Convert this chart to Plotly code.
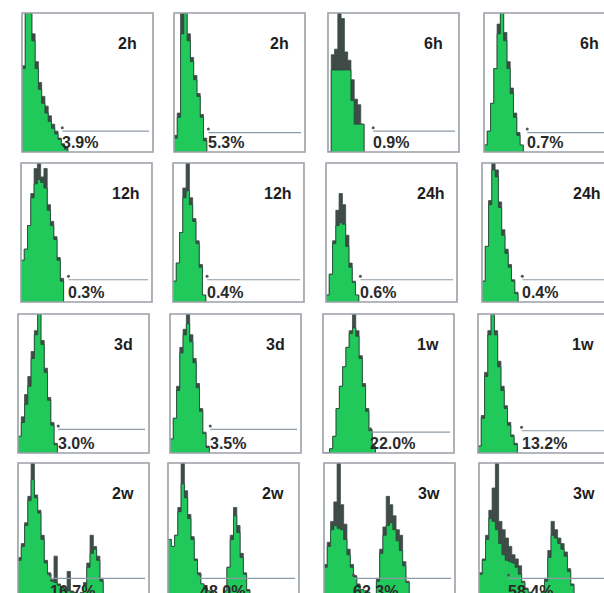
import plotly.graph_objects as go

# ---------------- data (bin heights, % of panel height; 40 bins per panel) ----------------
labels = ["2h", "2h", "6h", "6h",
          "12h", "12h", "24h", "24h",
          "3d", "3d", "1w", "1w",
          "2w", "2w", "3w", "3w"]
percents = ["3.9%", "5.3%", "0.9%", "0.7%",
            "0.3%", "0.4%", "0.6%", "0.4%",
            "3.0%", "3.5%", "22.0%", "13.2%",
            "16.7%", "48.0%", "62.3%", "58.4%"]
gate_start = [12.3, 10.5, 13.8, 13.2,
              14.5, 10.4, 10.5, 12.3,
              12.3, 12.3, 14.5, 13.3,
              9.8, 9.8, 9.0, 9.0]
gate_level = [15, 14, 15, 14,
              16, 16, 16, 16,
              17, 17, 15, 16,
              17, 17, 17, 17]

green = [
    [60, 100, 100, 80, 60, 45, 35, 28, 22, 17, 13, 9, 5, 2, 0],
    [10, 25, 85, 100, 80, 65, 52, 40, 25, 8, 0],
    [0, 59, 59, 59, 59, 59, 59, 37, 20, 20, 20, 0],
    [5, 15, 35, 60, 85, 100, 80, 60, 42, 25, 12, 5, 0],
    [30, 38, 55, 75, 85, 88, 86, 82, 66, 55, 45, 30, 15, 0],
    [15, 28, 50, 75, 80, 70, 58, 42, 25, 5, 0],
    [5, 20, 42, 55, 57, 56, 40, 25, 14, 5, 0],
    [15, 40, 70, 95, 90, 68, 48, 35, 25, 15, 6, 0],
    [12, 22, 35, 48, 68, 85, 100, 78, 58, 38, 20, 6, 0],
    [10, 25, 45, 72, 85, 93, 80, 65, 47, 30, 14, 4, 0],
    [0, 0, 3, 12, 32, 48, 62, 76, 86, 90, 84, 68, 48, 30, 16, 4, 0],
    [5, 25, 55, 85, 100, 85, 62, 45, 32, 20, 12, 6, 0],
    [30, 40, 55, 73, 88, 75, 64, 45, 28, 20, 15, 14, 12, 10, 9, 8, 7, 6, 5, 6,
     12, 25, 35, 38, 30, 15, 4, 0],
    [45, 40, 48, 65, 85, 75, 60, 45, 30, 20, 13, 10, 8, 7, 6, 5, 5, 8, 25, 45,
     62, 50, 32, 20, 8, 0],
    [25, 40, 52, 55, 53, 52, 45, 34, 25, 18, 12, 9, 8, 7, 6, 6, 15, 35, 48, 55,
     57, 52, 44, 37, 26, 14, 4, 0],
    [20, 30, 45, 60, 58, 52, 42, 34, 30, 29, 28, 25, 20, 14, 9, 7, 6, 6, 6, 7,
     15, 32, 48, 46, 42, 38, 33, 22, 12, 4, 0],
]

dark = [
    [62, 100, 100, 85, 65, 50, 40, 33, 26, 20, 15, 10, 6, 3, 0],
    [12, 28, 100, 100, 85, 68, 55, 42, 27, 10, 0],
    [0, 70, 74, 100, 96, 72, 66, 52, 38, 34, 20, 0],
    [5, 15, 35, 60, 92, 100, 86, 65, 46, 28, 14, 5, 0],
    [30, 38, 55, 78, 96, 100, 90, 96, 70, 58, 47, 32, 17, 0],
    [15, 28, 50, 82, 100, 75, 60, 44, 27, 5, 0],
    [5, 20, 44, 66, 78, 70, 48, 28, 15, 5, 0],
    [15, 40, 73, 100, 95, 72, 52, 38, 27, 16, 7, 0],
    [12, 26, 42, 55, 73, 88, 100, 81, 61, 40, 22, 7, 0],
    [10, 25, 48, 76, 89, 100, 85, 68, 50, 32, 15, 5, 0],
    [0, 0, 3, 12, 32, 48, 62, 76, 88, 100, 88, 70, 50, 32, 17, 5, 0],
    [5, 27, 58, 88, 100, 88, 66, 48, 34, 22, 13, 7, 0],
    [32, 42, 57, 76, 100, 77, 66, 48, 30, 21, 16, 33, 13, 11, 10, 22, 8, 7, 6, 7,
     14, 28, 48, 40, 33, 17, 5, 0],
    [45, 40, 48, 68, 100, 80, 63, 47, 31, 21, 13, 10, 8, 7, 6, 5, 5, 8, 25, 48,
     68, 55, 35, 21, 9, 0],
    [27, 43, 58, 72, 100, 70, 56, 38, 27, 19, 13, 9, 8, 7, 6, 6, 17, 38, 54, 76,
     70, 62, 52, 48, 29, 15, 5, 0],
    [21, 31, 48, 66, 82, 100, 58, 52, 46, 40, 34, 31, 26, 15, 10, 7, 6, 6, 6, 7,
     17, 37, 58, 52, 46, 42, 36, 24, 13, 5, 0],
]

# ---------------- layout constants (pixels) ----------------
FIG_W, FIG_H = 604, 593
NBINS = 40
PW, PH = 131, 139
row_tops = [13, 163, 314, 463]
lefts = [
    [22, 174, 328, 484],
    [21, 173, 326, 482],
    [18, 170, 323, 478],
    [18, 168, 324, 479],
]

GREEN = "#21c85a"
DARK = "#3f4b46"
EDGE = "#26483a"
BORDER = "#9aa0a8"
GATE = "#8e9aa6"

fig = go.Figure()
shapes = []
annotations = []

for k in range(16):
    r, c = divmod(k, 4)
    L = lefts[r][c]
    T = row_tops[r]
    R = L + PW
    B = T + PH
    Rv = min(R, FIG_W)
    Bv = min(B, FIG_H)
    xmax = NBINS * (Rv - L) / PW
    ymin = 100 * (B - Bv) / PH
    ax = "" if k == 0 else str(k + 1)
    xa, ya = "x" + ax, "y" + ax
    fig.layout["xaxis" + ax] = dict(
        domain=[L / FIG_W, Rv / FIG_W], range=[0, xmax], visible=False,
        anchor=ya, fixedrange=True)
    fig.layout["yaxis" + ax] = dict(
        domain=[1 - Bv / FIG_H, 1 - T / FIG_H], range=[ymin, 100], visible=False,
        anchor=xa, fixedrange=True)

    d = dark[k]
    g = green[k]
    fig.add_trace(go.Scatter(
        x=list(range(len(d))), y=d, mode="lines", line=dict(shape="hv", width=0.8, color=DARK),
        fill="tozeroy", fillcolor=DARK, xaxis=xa, yaxis=ya, hoverinfo="skip", showlegend=False))
    fig.add_trace(go.Scatter(
        x=list(range(len(g))), y=g, mode="lines", line=dict(shape="hv", width=0.8, color=EDGE),
        fill="tozeroy", fillcolor=GREEN, xaxis=xa, yaxis=ya, hoverinfo="skip", showlegend=False))

    # gate line
    gx = gate_start[k]
    gy = gate_level[k]
    fig.add_trace(go.Scatter(
        x=[gx, NBINS - 1.2], y=[gy, gy], mode="lines", line=dict(color=GATE, width=1.2),
        xaxis=xa, yaxis=ya, hoverinfo="skip", showlegend=False))
    fig.add_trace(go.Scatter(
        x=[gx], y=[gy + 2.5], mode="markers", marker=dict(color="#555", size=3),
        xaxis=xa, yaxis=ya, hoverinfo="skip", showlegend=False))

    # panel border
    shapes.append(dict(type="rect", xref="paper", yref="paper",
                       x0=L / FIG_W, x1=R / FIG_W, y0=1 - B / FIG_H, y1=1 - T / FIG_H,
                       line=dict(color=BORDER, width=1.6), fillcolor="rgba(0,0,0,0)", layer="above"))

    annotations.append(dict(x=gx, y=6.5, xref=xa, yref=ya, text="<b>%s</b>" % percents[k],
                            showarrow=False, xanchor="left", yanchor="middle", xshift=-2,
                            yshift=1 if r == 3 else 0,
                            font=dict(size=16, color="#2a2a2a", family="Liberation Sans, Arial")))
    annotations.append(dict(x=(L + 105) / FIG_W, y=1 - (T + 30) / FIG_H, xref="paper", yref="paper",
                            text="<b>%s</b>" % labels[k], showarrow=False,
                            xanchor="center", yanchor="middle",
                            font=dict(size=16, color="#1e1e1e", family="Liberation Sans, Arial")))

fig.update_layout(width=FIG_W, height=FIG_H, autosize=False,
                  margin=dict(l=0, r=0, t=0, b=0),
                  paper_bgcolor="white", plot_bgcolor="white",
                  shapes=shapes, annotations=annotations)

fig.write_html("out.html", config={"displayModeBar": False},
               post_script="document.body.style.margin='0px';")
